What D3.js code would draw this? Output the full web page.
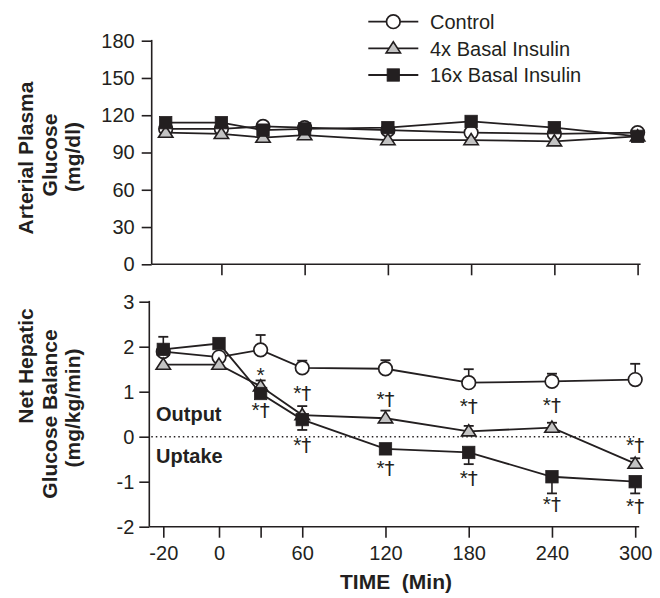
<!DOCTYPE html>
<html>
<head>
<meta charset="utf-8">
<script src="https://cdn.jsdelivr.net/npm/d3@7"></script>
<style>
  html, body { margin: 0; padding: 0; background: #fff; }
  svg { display: block; font-family: "Liberation Sans", Arial, Helvetica, sans-serif; }
</style>
</head>
<body>
<svg id="chart" width="660" height="598"></svg>
<script>
// ---------------- data ----------------
const times = [-20, 0, 30, 60, 120, 180, 240, 300];
const xTickValues = [-20, 0, 30, 60, 120, 180, 240, 300];
const xTickLabels = ["-20", "0", "", "60", "120", "180", "240", "300"];
const topXTicks = [0, 60, 120, 180, 240, 300];
const topYTicks = [0, 30, 60, 90, 120, 150, 180];
const botYTicks = [-2, -1, 0, 1, 2, 3];

const seriesNames = ["Control", "4x Basal Insulin", "16x Basal Insulin"];

// Arterial plasma glucose (mg/dl)
const controlGlucose = [109, 109, 111, 110, 108, 106, 105, 106];
const ins4Glucose    = [106, 105, 102, 104, 100, 100, 99, 103];
const ins16Glucose   = [114, 114, 108, 109, 110, 115, 110, 103];

// Net hepatic glucose balance (mg/kg/min)
const controlNHGB = [1.89, 1.77, 1.93, 1.53, 1.51, 1.20, 1.23, 1.27];
const ins4NHGB    = [1.60, 1.60, 1.12, 0.48, 0.41, 0.12, 0.20, -0.60];
const ins16NHGB   = [1.94, 2.07, 0.96, 0.38, -0.27, -0.35, -0.89, -1.00];

// error bars (signed: + drawn upward, - drawn downward, 0 none)
const controlErr = [0, 0, 0.33, 0.16, 0.19, 0.30, 0.17, 0.35];
const ins4Err    = [0, 0, 0.13, 0.20, 0.17, 0.12, 0.11, 0.12];
const ins16Err   = [0.28, 0, 0, -0.23, 0, -0.26, -0.37, -0.26];

// significance annotations (time, value at text baseline, symbols)
const annotTimes  = [30, 30, 60, 60, 120, 120, 180, 180, 240, 240, 300, 300];
const annotValues = [1.21, 0.44, 0.82, -0.33, 0.68, -0.86, 0.52, -1.08, 0.56, -1.65, -0.33, -1.69];
const annotDagger = [false, true, true, true, true, true, true, true, true, true, true, true];

// ---------------- drawing ----------------
const INK = "#231f20";
const GRAY = "#c3c3c3";
const FONT = '"Liberation Sans", Arial, sans-serif';
const svg = d3.select("#chart");

// broken time axis: -20 is spaced wider than the rest
const xBot = d3.scaleLinear().domain([-20, 0, 300]).range([163.3, 219, 635.2]);
const xTop = d3.scaleLinear().domain([-20, 0, 300]).range([165.7, 221.4, 637.6]);
const yTop = d3.scaleLinear().domain([0, 180]).range([264.3, 40.7]);
const yBot = d3.scaleLinear().domain([-2, 3]).range([526.7, 301.7]);

const topAxisX = 151.7, botAxisX = 149.3;

function styleAxis(g) {
  g.selectAll("path.domain").remove();
  g.selectAll("line").attr("stroke", INK).attr("stroke-width", 1.6);
  g.selectAll("text").attr("fill", INK).attr("font-size", 20).attr("font-family", FONT);
}

// ---- top panel axes
svg.append("g").attr("transform", `translate(${topAxisX},0)`)
  .call(d3.axisLeft(yTop).tickValues(topYTicks).tickSize(10).tickPadding(7).tickFormat(d => String(d)))
  .call(styleAxis);
svg.append("line").attr("x1", topAxisX).attr("x2", topAxisX)
  .attr("y1", yTop(180) - 0.8).attr("y2", yTop(0))
  .attr("stroke", INK).attr("stroke-width", 1.6);
svg.append("g").attr("transform", `translate(0,${yTop(0)})`)
  .call(d3.axisBottom(xTop).tickValues(topXTicks).tickSize(11).tickFormat(""))
  .call(styleAxis);
svg.append("line").attr("x1", topAxisX).attr("x2", xTop(300) + 3)
  .attr("y1", yTop(0)).attr("y2", yTop(0))
  .attr("stroke", INK).attr("stroke-width", 1.6);

// ---- bottom panel axes
svg.append("g").attr("transform", `translate(${botAxisX},0)`)
  .call(d3.axisLeft(yBot).tickValues(botYTicks).tickSize(10).tickPadding(5).tickFormat(d => String(d)))
  .call(styleAxis);
svg.append("line").attr("x1", botAxisX).attr("x2", botAxisX)
  .attr("y1", yBot(3) - 0.8).attr("y2", yBot(-2))
  .attr("stroke", INK).attr("stroke-width", 1.6);
svg.append("g").attr("transform", `translate(0,${yBot(-2)})`)
  .call(d3.axisBottom(xBot).tickValues(xTickValues).tickSize(11).tickPadding(8)
    .tickFormat((d, i) => xTickLabels[i]))
  .call(styleAxis);
svg.append("line").attr("x1", botAxisX).attr("x2", xBot(300) + 4)
  .attr("y1", yBot(-2)).attr("y2", yBot(-2))
  .attr("stroke", INK).attr("stroke-width", 1.6);

// dotted zero line
svg.append("line").attr("x1", botAxisX + 2).attr("x2", xBot(300))
  .attr("y1", yBot(0)).attr("y2", yBot(0))
  .attr("stroke", INK).attr("stroke-width", 1.5).attr("stroke-dasharray", "1.5,3");

// ---- markers
function drawMarker(g, type, cx, cy) {
  if (type === 0) {
    g.append("circle").attr("cx", cx).attr("cy", cy).attr("r", 6.8)
      .attr("fill", "#fff").attr("stroke", INK).attr("stroke-width", 1.7);
  } else if (type === 1) {
    g.append("path")
      .attr("d", `M${cx},${cy - 6.6}L${cx + 7.2},${cy + 4.6}L${cx - 7.2},${cy + 4.6}Z`)
      .attr("fill", GRAY).attr("stroke", INK).attr("stroke-width", 1.6)
      .attr("stroke-linejoin", "miter");
  } else {
    g.append("rect").attr("x", cx - 6.2).attr("y", cy - 6.2).attr("width", 12.4).attr("height", 12.4)
      .attr("fill", INK).attr("stroke", INK).attr("stroke-width", 0.8);
  }
}

function drawSeries(xs, ys, vals, errs) {
  const g = svg.append("g");
  if (errs) {
    vals.forEach((v, i) => {
      const e = errs[i];
      if (!e) return;
      const x = xs(times[i]);
      const yEnd = ys(v + e);
      g.append("line").attr("x1", x).attr("x2", x).attr("y1", ys(v)).attr("y2", yEnd)
        .attr("stroke", INK).attr("stroke-width", 1.6);
      g.append("line").attr("x1", x - 5).attr("x2", x + 5).attr("y1", yEnd).attr("y2", yEnd)
        .attr("stroke", INK).attr("stroke-width", 1.8);
    });
  }
  const line = d3.line().x((d, i) => xs(times[i])).y(d => ys(d));
  g.append("path").attr("d", line(vals)).attr("fill", "none")
    .attr("stroke", INK).attr("stroke-width", 1.8);
  return g;
}

const topSeries = [controlGlucose, ins4Glucose, ins16Glucose];
const botSeries = [controlNHGB, ins4NHGB, ins16NHGB];
const botErrs = [controlErr, ins4Err, ins16Err];

topSeries.forEach((vals, k) => {
  const g = drawSeries(xTop, yTop, vals, null);
  vals.forEach((v, i) => drawMarker(g, k, xTop(times[i]), yTop(v)));
});
botSeries.forEach((vals, k) => {
  const g = drawSeries(xBot, yBot, vals, botErrs[k]);
  vals.forEach((v, i) => drawMarker(g, k, xBot(times[i]), yBot(v)));
});

// ---- annotations
annotTimes.forEach((t, i) => {
  const txt = svg.append("text").attr("x", xBot(t)).attr("y", yBot(annotValues[i]))
    .attr("text-anchor", "middle").attr("font-size", 21)
    .attr("font-family", FONT).attr("fill", INK);
  txt.append("tspan").text("*");
  if (annotDagger[i]) {
    txt.append("tspan").attr("font-family", '"DejaVu Sans", sans-serif')
      .attr("font-size", 20).attr("fill", INK).text("†");
  }
});

svg.append("text").attr("x", 156).attr("y", 420.7).attr("font-size", 20)
  .attr("font-weight", "bold").attr("fill", INK).text("Output");
svg.append("text").attr("x", 156).attr("y", 462.5).attr("font-size", 20)
  .attr("font-weight", "bold").attr("fill", INK).text("Uptake");

// ---- legend
const legendY = [21.7, 48.3, 75];
seriesNames.forEach((name, k) => {
  const g = svg.append("g");
  g.append("line").attr("x1", 368.3).attr("x2", 418.3).attr("y1", legendY[k]).attr("y2", legendY[k])
    .attr("stroke", INK).attr("stroke-width", 1.8);
  drawMarker(g, k, 393.3, legendY[k]);
  g.append("text").attr("x", 430).attr("y", legendY[k]).attr("dy", "0.36em")
    .attr("font-size", 20).attr("fill", INK).text(name);
});

// ---- axis titles
function multiTitle(lines, centers) {
  const xs = [25, 49, 72];
  lines.forEach((s, i) => {
    svg.append("text").attr("transform", `translate(${xs[i]},${centers[i]}) rotate(-90)`)
      .attr("text-anchor", "middle").attr("dy", "0.36em")
      .attr("font-size", 21).attr("font-weight", "bold").attr("fill", INK).text(s);
  });
}
multiTitle(["Arterial Plasma", "Glucose", "(mg/dl)"], [158, 155, 157]);
multiTitle(["Net Hepatic", "Glucose Balance", "(mg/kg/min)"], [366, 414, 408]);

svg.append("text").attr("x", 396).attr("y", 589).attr("text-anchor", "middle")
  .attr("font-size", 21).attr("font-weight", "bold").attr("fill", INK)
  .style("white-space", "pre").text("TIME  (Min)");
</script>
</body>
</html>
